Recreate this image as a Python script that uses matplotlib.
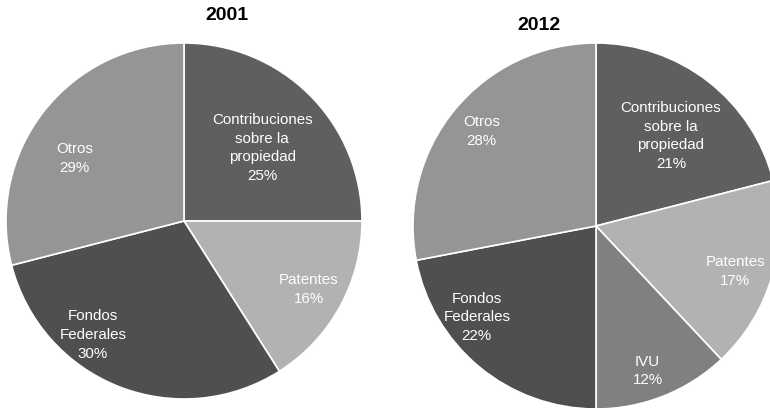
import numpy as np
import matplotlib.pyplot as plt

plt.rcParams['font.family'] = ['Liberation Sans', 'DejaVu Sans']

# 2001
labels_2001 = ['Contribuciones\nsobre la\npropiedad', 'Patentes', 'Fondos\nFederales', 'Otros']
values_2001 = [25, 16, 30, 29]
colors_2001 = ['#5f5f5f', '#b2b2b2', '#4f4f4f', '#959595']

# 2012
labels_2012 = ['Contribuciones\nsobre la\npropiedad', 'Patentes', 'IVU', 'Fondos\nFederales', 'Otros']
values_2012 = [21, 17, 12, 22, 28]
colors_2012 = ['#5f5f5f', '#b2b2b2', '#808080', '#4f4f4f', '#959595']

# label placement: (radius, angle offset in degrees)
place_2001 = [(0.60, -2), (0.80, 0), (0.82, -17), (0.71, 8)]
place_2012 = [(0.64, -2), (0.80, -2), (0.84, -2), (0.82, -13), (0.81, 0)]

W, H = 770, 408
fig = plt.figure(figsize=(W / 100, H / 100), dpi=100)


def draw(cx, cy, r, labels, values, colors, place):
    ax = fig.add_axes([(cx - r) / W, (H - cy - r) / H, 2 * r / W, 2 * r / H])
    wedges, _ = ax.pie(values, colors=colors, startangle=90, counterclock=False,
                       wedgeprops=dict(edgecolor='white', linewidth=1.2))
    for w, lab, v, (d, off) in zip(wedges, labels, values, place):
        ang = np.deg2rad((w.theta1 + w.theta2) / 2 + off)
        ax.text(d * np.cos(ang), d * np.sin(ang), f'{lab}\n{v}%', ha='center', va='center',
                color='white', fontsize=10.9, linespacing=1.42)
    ax.set_xlim(-1, 1)
    ax.set_ylim(-1, 1)
    ax.set_aspect('equal')
    ax.axis('off')
    return ax


draw(184, 221, 178, labels_2001, values_2001, colors_2001, place_2001)
draw(596, 226, 183, labels_2012, values_2012, colors_2012, place_2012)

fig.text(227 / W, 1 - 16 / H, '2001', ha='center', va='center', fontsize=14, fontweight='bold')
fig.text(539 / W, 1 - 25 / H, '2012', ha='center', va='center', fontsize=14, fontweight='bold')

fig.savefig('out.png', dpi=100)
